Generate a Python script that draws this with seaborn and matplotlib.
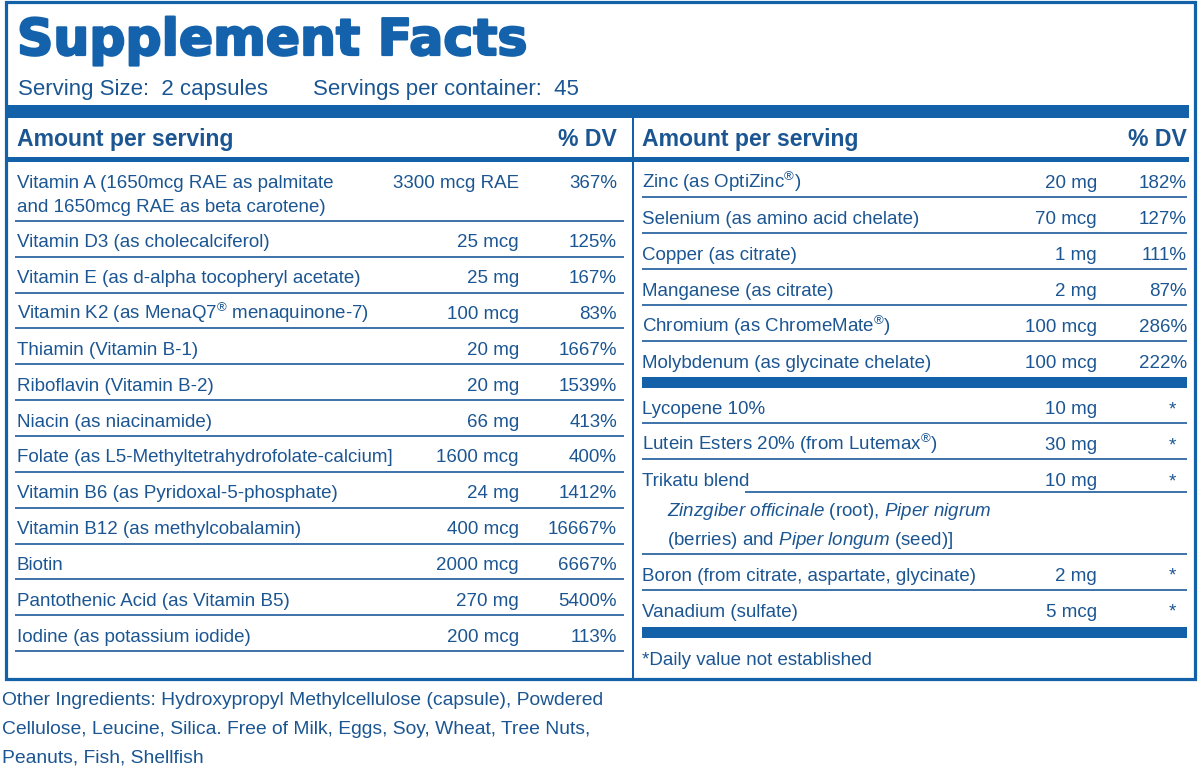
import matplotlib
matplotlib.use("Agg")
import matplotlib.pyplot as plt
import matplotlib.patheffects as pe
from matplotlib.patches import Rectangle
from matplotlib import font_manager as fm
import seaborn as sns

# ---------------- data ----------------
title = "Supplement Facts"
serving_size = "Serving Size:  2 capsules"
servings_per = "Servings per container:  45"
header_left = "Amount per serving"
header_right = "% DV"

left_names = [
    "Vitamin A (1650mcg RAE as palmitate\nand 1650mcg RAE as beta carotene)",
    "Vitamin D3 (as cholecalciferol)",
    "Vitamin E (as d-alpha tocopheryl acetate)",
    "Vitamin K2 (as MenaQ7$^{®}$ menaquinone-7)",
    "Thiamin (Vitamin B-1)",
    "Riboflavin (Vitamin B-2)",
    "Niacin (as niacinamide)",
    "Folate (as L5-Methyltetrahydrofolate-calcium]",
    "Vitamin B6 (as Pyridoxal-5-phosphate)",
    "Vitamin B12 (as methylcobalamin)",
    "Biotin",
    "Pantothenic Acid (as Vitamin B5)",
    "Iodine (as potassium iodide)",
]
left_amounts = ["3300 mcg RAE", "25 mcg", "25 mg", "100 mcg", "20 mg", "20 mg", "66 mg",
                "1600 mcg", "24 mg", "400 mcg", "2000 mcg", "270 mg", "200 mcg"]
left_dv = ["367%", "125%", "167%", "83%", "1667%", "1539%", "413%", "400%", "1412%",
           "16667%", "6667%", "5400%", "113%"]

mineral_names = ["Zinc (as OptiZinc$^{®}$)", "Selenium (as amino acid chelate)", "Copper (as citrate)",
                 "Manganese (as citrate)", "Chromium (as ChromeMate$^{®}$)",
                 "Molybdenum (as glycinate chelate)"]
mineral_amounts = ["20 mg", "70 mcg", "1 mg", "2 mg", "100 mcg", "100 mcg"]
mineral_dv = ["182%", "127%", "111%", "87%", "286%", "222%"]

other_names = ["Lycopene 10%", "Lutein Esters 20% (from Lutemax$^{®}$)", "Trikatu blend",
               "Boron (from citrate, aspartate, glycinate)", "Vanadium (sulfate)"]
other_amounts = ["10 mg", "30 mg", "10 mg", "2 mg", "5 mcg"]
other_dv = ["*", "*", "*", "*", "*"]
other_detail = ["", "",
                r"$\mathit{Zinzgiber\ officinale}$ (root), $\mathit{Piper\ nigrum}$" + "\n"
                + r"(berries) and $\mathit{Piper\ longum}$ (seed)]",
                "", ""]

footnote = "*Daily value not established"
other_ingredients = ["Other Ingredients: Hydroxypropyl Methylcellulose (capsule), Powdered",
                     "Cellulose, Leucine, Silica. Free of Milk, Eggs, Soy, Wheat, Tree Nuts,",
                     "Peanuts, Fish, Shellfish"]

# ---------------- style ----------------
sns.set_theme(style="white")
names = {f.name for f in fm.fontManager.ttflist}
FONT = "Liberation Sans" if "Liberation Sans" in names else "DejaVu Sans"
plt.rcParams["font.family"] = [FONT, "DejaVu Sans"]
plt.rcParams["mathtext.fontset"] = "custom"
plt.rcParams["mathtext.rm"] = FONT
plt.rcParams["mathtext.it"] = FONT + ":italic"

TXT = "#1c5692"
BAR = "#1361a9"
LINE = "#2c66a3"
PT = 0.72  # px -> pt at 100 dpi

fig = plt.figure(figsize=(12, 7.71), dpi=100)
ax = fig.add_axes([0, 0, 1, 1])
ax.set_xlim(0, 1200)
ax.set_ylim(771, 0)
ax.axis("off")


def bar(y0, y1, x0, x1):
    ax.add_patch(Rectangle((x0, y0), x1 - x0, y1 - y0, facecolor=BAR, edgecolor="none"))


def hline(y, x0, x1, w=1.8, color=LINE):
    ax.plot([x0, x1], [y, y], color=color, lw=w * PT, solid_capstyle="butt")


def txt(x, y, s, px=18.8, ha="left", weight="normal", **kw):
    return ax.text(x, y, s, fontsize=px * PT, ha=ha, va="baseline", color=TXT,
                   fontweight=weight, **kw)


# outer border and structure
ax.add_patch(Rectangle((5.5, 2), 1189.5, 676.5, facecolor="none", edgecolor=BAR, lw=3.2 * PT))
bar(105, 118, 7, 1189)
bar(156.5, 161.5, 7, 1189)
ax.plot([632.5, 632.5], [118, 678], color=BAR, lw=2 * PT)

# title block
t = ax.text(17, 55, title, fontsize=50.5 * PT, ha="left", va="baseline", color="#1462ab",
            fontweight="bold", family="DejaVu Sans")
t.set_path_effects([pe.withStroke(linewidth=1.6, foreground="#1462ab")])
txt(18, 95, serving_size, px=22.3)
txt(313, 95, servings_per, px=22.3)

# headers
for x0, x1 in [(17, 617), (642, 1187)]:
    txt(x0, 146, header_left, px=23, weight="bold")
    txt(x1, 146, header_right, px=23, weight="bold", ha="right")

P = 35.85
# left column
top = 161.5
for i, (n, a, d) in enumerate(zip(left_names, left_amounts, left_dv)):
    lines = n.split("\n")
    h = P + (len(lines) - 1) * 23.5
    for j, ln in enumerate(lines):
        txt(17, top + 26.5 + j * 24, ln)
    txt(519, top + 26.5, a, ha="right")
    txt(617, top + 26.5, d, ha="right")
    top += h
    hline(top, 15, 624)

# right column: minerals
top = 161.5
for i, (n, a, d) in enumerate(zip(mineral_names, mineral_amounts, mineral_dv)):
    txt(642, top + 27, n)
    txt(1097, top + 27, a, ha="right")
    txt(1187, top + 27, d, ha="right")
    top += P
    if i < len(mineral_names) - 1:
        hline(top, 642, 1187)
bar(377, 387.5, 642, 1187)

# right column: others
top = 387.5
for i, (n, a, d, det) in enumerate(zip(other_names, other_amounts, other_dv, other_detail)):
    txt(642, top + 27, n)
    txt(1097, top + 27, a, ha="right")
    txt(1176, top + 27, d, ha="right")
    h = P
    if det:
        hline(top + 33, 745, 1187)
        for j, ln in enumerate(det.split("\n")):
            txt(667, top + 57 + j * 29, ln)
        h = P + 2 * 29.4
    top += h
    if i < len(other_names) - 1:
        hline(top, 642, 1187)
bar(627, 637.5, 642, 1187)
txt(642, 665, footnote)

# other ingredients
for j, ln in enumerate(other_ingredients):
    txt(2, 705 + j * 28.6, ln, px=19.3)

fig.savefig("out.png", dpi=100)
